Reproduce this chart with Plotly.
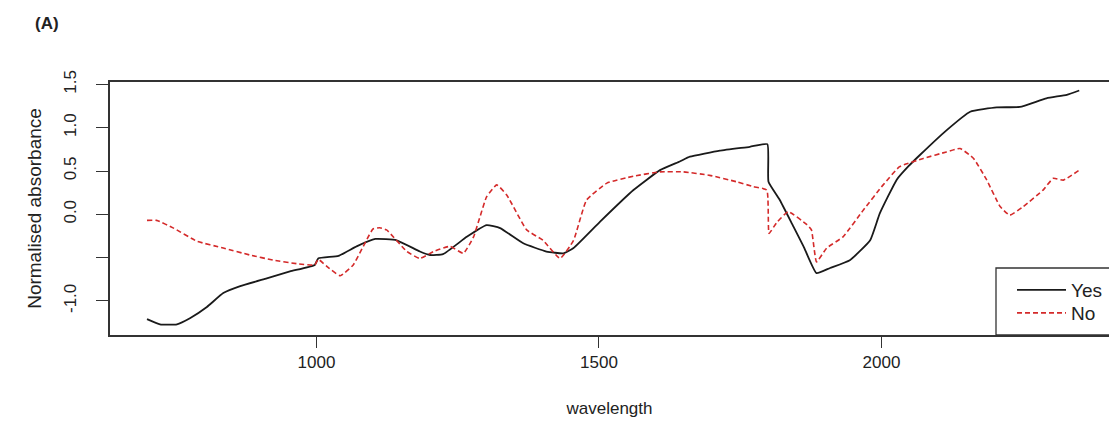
import plotly.graph_objects as go

# Data
wl_yes = [700, 723, 753, 776, 806, 835, 865, 912, 953, 997, 1003, 1039, 1071, 1104, 1142,
          1183, 1201, 1224, 1266, 1301, 1325, 1366, 1407, 1437, 1455, 1502, 1561, 1608, 1643,
          1661, 1714, 1767, 1798, 1800, 1820, 1844, 1862, 1885, 1909, 1944, 1980, 1997, 2027,
          2047, 2068, 2115, 2157, 2204, 2245, 2292, 2328, 2350]
abs_yes = [-1.21, -1.27, -1.27, -1.20, -1.07, -0.91, -0.83, -0.74, -0.66, -0.585, -0.51, -0.48,
           -0.37, -0.285, -0.30, -0.43, -0.47, -0.46, -0.26, -0.125, -0.16, -0.335, -0.43, -0.45,
           -0.39, -0.085, 0.28, 0.51, 0.61, 0.665, 0.735, 0.78, 0.81, 0.375, 0.165, -0.14, -0.37,
           -0.68, -0.62, -0.53, -0.30, 0.01, 0.40, 0.55, 0.685, 0.97, 1.185, 1.235, 1.24, 1.34,
           1.38, 1.43]

wl_no = [700, 717, 747, 788, 835, 882, 924, 965, 997, 1003, 1018, 1042, 1065, 1100, 1112,
         1124, 1160, 1183, 1207, 1236, 1260, 1278, 1301, 1319, 1337, 1372, 1401, 1431, 1455,
         1478, 1514, 1561, 1608, 1649, 1696, 1744, 1773, 1797, 1801, 1814, 1835, 1868, 1876,
         1885, 1903, 1932, 1968, 2003, 2032, 2074, 2115, 2139, 2163, 2186, 2210, 2227, 2251,
         2286, 2304, 2322, 2350]
abs_no = [-0.07, -0.07, -0.16, -0.31, -0.39, -0.47, -0.53, -0.57, -0.585, -0.52, -0.60, -0.71,
          -0.585, -0.17, -0.155, -0.18, -0.43, -0.51, -0.43, -0.37, -0.45, -0.26, 0.20, 0.34,
          0.22, -0.18, -0.30, -0.51, -0.30, 0.165, 0.36, 0.44, 0.49, 0.49, 0.45, 0.375, 0.32,
          0.28, -0.22, -0.10, 0.03, -0.12, -0.18, -0.55, -0.39, -0.26, 0.05, 0.34, 0.55, 0.645,
          0.72, 0.76, 0.645, 0.40, 0.09, -0.01, 0.09, 0.28, 0.415, 0.395, 0.51]

x_ticks = [1000, 1500, 2000]
y_ticks = [-1.0, -0.5, 0.0, 0.5, 1.0, 1.5]
y_tick_text = ["-1.0", "", "0.0", "0.5", "1.0", "1.5"]

FONT = "Liberation Sans, Arial, sans-serif"
TXT = "#222222"
AX = "#333333"

# plot area in pixels: left 110, top 82, bottom 335, right at the page edge
L, T, B = 110, 82, 88
PW, PH = 1109 - L, 423 - T - B

def px(xp):
    return (xp - L) / PW

def py(yp):
    return (423 - B - yp) / PH

fig = go.Figure()
fig.add_trace(go.Scatter(x=wl_yes, y=abs_yes, mode="lines", name="Yes", legend="legend",
                         line=dict(color="#1a1a1a", width=1.8, shape="spline", smoothing=0.4)))
fig.add_trace(go.Scatter(x=wl_no, y=abs_no, mode="lines", name="No", legend="legend2",
                         line=dict(color="#d42a2a", width=1.6, dash="5px,3px",
                                   shape="spline", smoothing=0.4)))

leg_common = dict(xanchor="left", yanchor="middle", bgcolor="rgba(255,255,255,0)",
                  borderwidth=0, font=dict(size=19, family=FONT, color=TXT), itemwidth=49)

fig.update_layout(
    width=1109, height=423,
    margin=dict(l=L, r=0, t=T, b=B),
    paper_bgcolor="white", plot_bgcolor="white",
    font=dict(family=FONT, color=TXT, size=17),
    showlegend=True,
    legend=dict(x=px(1012), y=py(290), **leg_common),
    legend2=dict(x=px(1012), y=py(313), **leg_common),
    annotations=[dict(text="<b>(A)</b>", x=px(47), y=py(23), xref="paper", yref="paper",
                      xanchor="center", yanchor="middle", showarrow=False,
                      font=dict(size=17, family=FONT, color=TXT))],
)

fig.update_xaxes(
    range=[634.5, 2402.7], tickvals=x_ticks, ticks="outside", ticklen=11,
    tickcolor=AX, tickwidth=1.3, showgrid=False, zeroline=False,
    showline=True, linecolor=AX, linewidth=1.5, mirror=True,
    tickfont=dict(size=17), ticklabelstandoff=0,
    title=dict(text="wavelength", font=dict(size=17), standoff=31),
)
fig.update_yaxes(
    range=[-1.394, 1.528], tickvals=y_ticks, ticktext=y_tick_text, tickangle=-90,
    ticks="outside", ticklen=12, tickcolor=AX, tickwidth=1.3,
    showgrid=False, zeroline=False, showline=True, linecolor=AX, linewidth=1.5,
    mirror=False, tickfont=dict(size=17), ticklabelstandoff=13,
    title=dict(text="Normalised absorbance", font=dict(size=19), standoff=15),
)

# legend box (open on the right, as in the clipped reference)
fig.add_shape(type="rect", xref="paper", yref="paper",
              x0=px(996), x1=1.02, y0=0.0, y1=py(268),
              line=dict(color=AX, width=1.3), fillcolor="rgba(0,0,0,0)", layer="above")

fig.write_html("out.html")
